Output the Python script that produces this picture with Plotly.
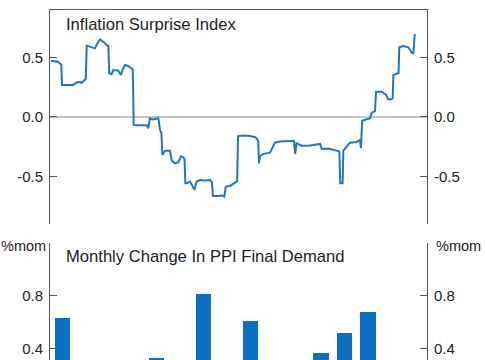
import plotly.graph_objects as go

# ---- data ----
# Inflation surprise index (x in months from first bar month)
line_x = [-0.49, -0.20, -0.11, -0.05, -0.02, 0.46, 0.60, 0.75, 0.80, 0.96, 0.99, 1.03, 1.38, 1.52, 1.60,
          1.78, 1.88, 1.95, 1.99, 2.09, 2.16, 2.37, 2.49, 2.55, 2.66, 2.79, 2.95, 2.99, 3.03, 3.16,
          3.58, 3.65, 3.72, 3.85, 4.08, 4.15, 4.21, 4.25, 4.36, 4.57, 4.65, 4.79, 4.93, 5.04, 5.10,
          5.19, 5.23, 5.29, 5.43, 5.61, 5.71, 5.85, 6.06, 6.28, 6.36, 6.40, 6.63, 6.80, 6.885, 6.945,
          7.13, 7.34, 7.43, 7.47, 7.69, 7.98, 8.22, 8.33, 8.36, 8.40, 8.55, 8.83, 8.93, 9.04, 9.26,
          9.68, 9.85, 9.90, 9.96, 10.18, 10.53, 10.96, 11.03, 11.31, 11.52, 11.67, 11.78, 11.82, 11.92,
          11.95, 12.23, 12.52, 12.66, 12.70, 12.75, 12.97, 13.09, 13.16, 13.23, 13.30, 13.34, 13.58,
          13.77, 13.86, 14.01, 14.05, 14.08, 14.25, 14.30, 14.33, 14.50, 14.715, 14.86, 14.93, 14.99]
line_y = [0.473, 0.465, 0.45, 0.44, 0.27, 0.27, 0.29, 0.295, 0.285, 0.317, 0.32, 0.60, 0.577, 0.633, 0.653,
          0.625, 0.605, 0.60, 0.367, 0.36, 0.395, 0.39, 0.353, 0.395, 0.437, 0.43, 0.41, 0.40, -0.067, -0.07,
          -0.07, -0.095, -0.011, -0.02, -0.01, -0.11, -0.135, -0.32, -0.283, -0.283, -0.367, -0.39, -0.38, -0.33, -0.335,
          -0.35, -0.557, -0.557, -0.543, -0.613, -0.543, -0.53, -0.535, -0.53, -0.55, -0.664, -0.664, -0.66, -0.67, -0.585,
          -0.58, -0.557, -0.54, -0.16, -0.155, -0.16, -0.171, -0.2, -0.39, -0.333, -0.31, -0.30, -0.263, -0.216, -0.207,
          -0.199, -0.20, -0.31, -0.22, -0.241, -0.24, -0.227, -0.269, -0.265, -0.272, -0.283, -0.29, -0.557, -0.557,
          -0.283, -0.216, -0.21, -0.193, -0.263, -0.031, -0.02, -0.01, 0.036, 0.045, 0.05, 0.213, 0.213,
          0.185, 0.149, 0.149, 0.16, 0.353, 0.367, 0.37, 0.586, 0.597, 0.586, 0.54, 0.535, 0.697]

# Monthly change in PPI final demand (%mom)
bar_x = [0, 1, 2, 3, 4, 5, 6, 7, 8, 9, 10, 11, 12, 13]
bar_y = [0.63, 0.10, -0.10, 0.20, 0.33, 0.00, 0.81, 0.20, 0.61, 0.10, -0.10, 0.37, 0.52, 0.68]

top_ticks = [-0.5, 0.0, 0.5]
top_ticklabels = ["-0.5", "0.0", "0.5"]
bot_ticks = [0.0, 0.4, 0.8]
bot_ticklabels = ["0.0", "0.4", "0.8"]

FONT = "Arial, Liberation Sans, sans-serif"
TXT = "#222222"
AX = "#555555"
XR = [-0.532, 15.51]
TOP_R = [-0.9, 0.9]
BOT_R = [0.314, 1.2]

fig = go.Figure()
fig.add_trace(go.Scatter(x=line_x, y=line_y, mode="lines", xaxis="x", yaxis="y",
                         line=dict(color="#1f77c0", width=2), hoverinfo="skip"))
fig.add_trace(go.Scatter(x=[line_x[0]], y=[line_y[0]], mode="markers", xaxis="x", yaxis="y2",
                         marker=dict(opacity=0), hoverinfo="skip"))
fig.add_trace(go.Bar(x=bar_x, y=bar_y, xaxis="x2", yaxis="y3", width=0.64,
                     marker=dict(color="#0b6fc4", line=dict(width=0)), hoverinfo="skip"))
fig.add_trace(go.Scatter(x=[bar_x[0]], y=[bar_y[0]], mode="markers", xaxis="x2", yaxis="y4",
                         marker=dict(opacity=0), hoverinfo="skip"))

yax_common = dict(showgrid=False, zeroline=False, showline=True, linecolor=AX, linewidth=1,
                  ticks="inside", ticklen=7, tickcolor=AX, tickfont=dict(family=FONT, size=15, color=TXT),
                  ticklabelstandoff=3, fixedrange=True)

fig.update_layout(
    width=485, height=360,
    margin=dict(l=50, r=58, t=10, b=0),
    paper_bgcolor="white", plot_bgcolor="white",
    showlegend=False,
    bargap=0,
    hovermode=False,
    xaxis=dict(domain=[0, 1], range=XR, anchor="y", side="top", showline=True, linecolor=AX,
               linewidth=1, showticklabels=False, ticks="", showgrid=False, zeroline=False, fixedrange=True),
    yaxis=dict(domain=[0.3886, 1], range=TOP_R, anchor="x", side="left",
               tickvals=top_ticks, ticktext=top_ticklabels, **yax_common),
    yaxis2=dict(domain=[0.3886, 1], range=TOP_R, anchor="x", overlaying="y", side="right",
                tickvals=top_ticks, ticktext=top_ticklabels, **yax_common),
    xaxis2=dict(domain=[0, 1], range=XR, anchor="y3", showline=False, showticklabels=False,
                ticks="", showgrid=False, zeroline=False, fixedrange=True),
    yaxis3=dict(domain=[0, 0.3354], range=BOT_R, anchor="x2", side="left",
                tickvals=bot_ticks, ticktext=bot_ticklabels, **yax_common),
    yaxis4=dict(domain=[0, 0.3354], range=BOT_R, anchor="x2", overlaying="y3", side="right",
                tickvals=bot_ticks, ticktext=bot_ticklabels, **yax_common),
    shapes=[dict(type="line", xref="x", yref="y", x0=XR[0], x1=XR[1], y0=0, y1=0,
                 line=dict(color="#888888", width=1), layer="below")],
    annotations=[
        dict(text="Inflation Surprise Index", xref="paper", yref="paper", x=0.038, y=0.96,
             xanchor="left", yanchor="middle", showarrow=False, font=dict(family=FONT, size=16.6, color=TXT)),
        dict(text="Monthly Change In PPI Final Demand", xref="paper", yref="paper", x=0.038, y=0.297,
             xanchor="left", yanchor="middle", showarrow=False, font=dict(family=FONT, size=16.6, color=TXT)),
        dict(text="%mom", xref="paper", yref="paper", x=-0.005, y=0.326,
             xanchor="right", yanchor="middle", showarrow=False, font=dict(family=FONT, size=14.5, color=TXT)),
        dict(text="%mom", xref="paper", yref="paper", x=1.0186, y=0.326,
             xanchor="left", yanchor="middle", showarrow=False, font=dict(family=FONT, size=14.5, color=TXT)),
    ],
)

fig.write_html("out.html", config={"displayModeBar": False, "staticPlot": True},
               post_script="document.body.style.margin='0';document.body.style.overflow='hidden';")
